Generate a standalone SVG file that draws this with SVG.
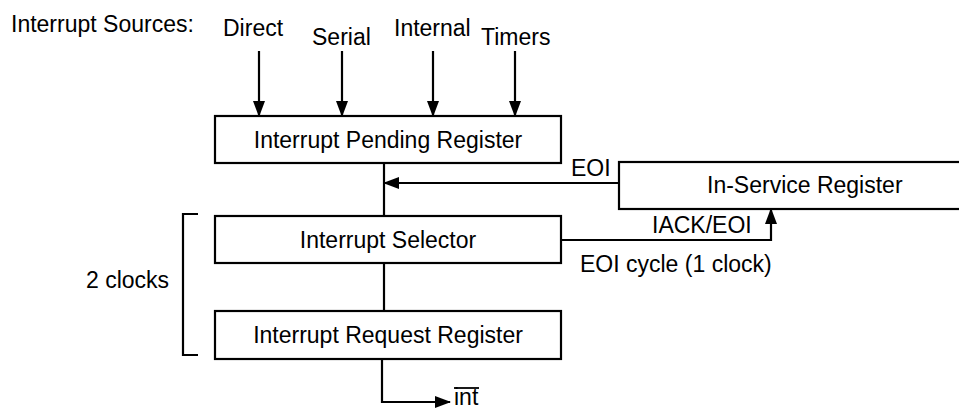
<svg xmlns="http://www.w3.org/2000/svg" width="959" height="411" viewBox="0 0 959 411">
<style>
  text { font-family: "Liberation Sans", Arial, sans-serif; font-size: 23px; fill: #000; }
  .box { fill: #fff; stroke: #000; stroke-width: 2.2; }
  .c { text-anchor: middle; }
  .wire { fill: none; stroke: #000; stroke-width: 2.2; }
</style>
<defs>
  <marker id="ah" markerUnits="userSpaceOnUse" markerWidth="16" markerHeight="12" refX="15" refY="6" orient="auto">
    <path d="M0,0 L16,6 L0,12 z" fill="#000"/>
  </marker>
</defs>
<rect width="959" height="411" fill="#fff"/>

<g id="labels">
  <text x="11" y="32">Interrupt Sources:</text>
  <text x="223" y="36">Direct</text>
  <text x="312" y="45">Serial</text>
  <text x="394" y="36">Internal</text>
  <text x="481" y="45">Timers</text>
  <text x="86" y="288">2 clocks</text>
  <text x="571" y="176">EOI</text>
  <text x="652" y="233">IACK/EOI</text>
  <text x="580" y="272">EOI cycle (1 clock)</text>
  <text x="454" y="405">int</text>
  <line x1="454" y1="388" x2="479" y2="388" stroke="#000" stroke-width="1.8"/>
</g>

<g id="connectors">
  <line class="wire" x1="259" y1="51" x2="259" y2="116" marker-end="url(#ah)"/>
  <line class="wire" x1="342" y1="51" x2="342" y2="116" marker-end="url(#ah)"/>
  <line class="wire" x1="433" y1="51" x2="433" y2="116" marker-end="url(#ah)"/>
  <line class="wire" x1="515" y1="51" x2="515" y2="116" marker-end="url(#ah)"/>
  <line class="wire" x1="384" y1="163" x2="384" y2="216"/>
  <line class="wire" x1="619" y1="183" x2="384" y2="183" marker-end="url(#ah)"/>
  <polyline class="wire" points="561,240 771,240 771,209" marker-end="url(#ah)"/>
  <line class="wire" x1="384" y1="263" x2="384" y2="311"/>
  <polyline class="wire" points="382,359 382,402 450,402" marker-end="url(#ah)"/>
  <polyline class="wire" points="198,214 183,214 183,355 198,355"/>
</g>

<g id="pending">
  <rect class="box" x="215" y="116" width="346" height="47"/>
  <text class="c" x="388" y="147.5">Interrupt Pending Register</text>
</g>
<g id="inservice">
  <rect class="box" x="619" y="162" width="360" height="47"/>
  <text x="707" y="193">In-Service Register</text>
</g>
<g id="selector">
  <rect class="box" x="215" y="216" width="346" height="47"/>
  <text class="c" x="388" y="247.5">Interrupt Selector</text>
</g>
<g id="request">
  <rect class="box" x="215" y="311" width="346" height="48"/>
  <text class="c" x="388" y="343">Interrupt Request Register</text>
</g>
</svg>
